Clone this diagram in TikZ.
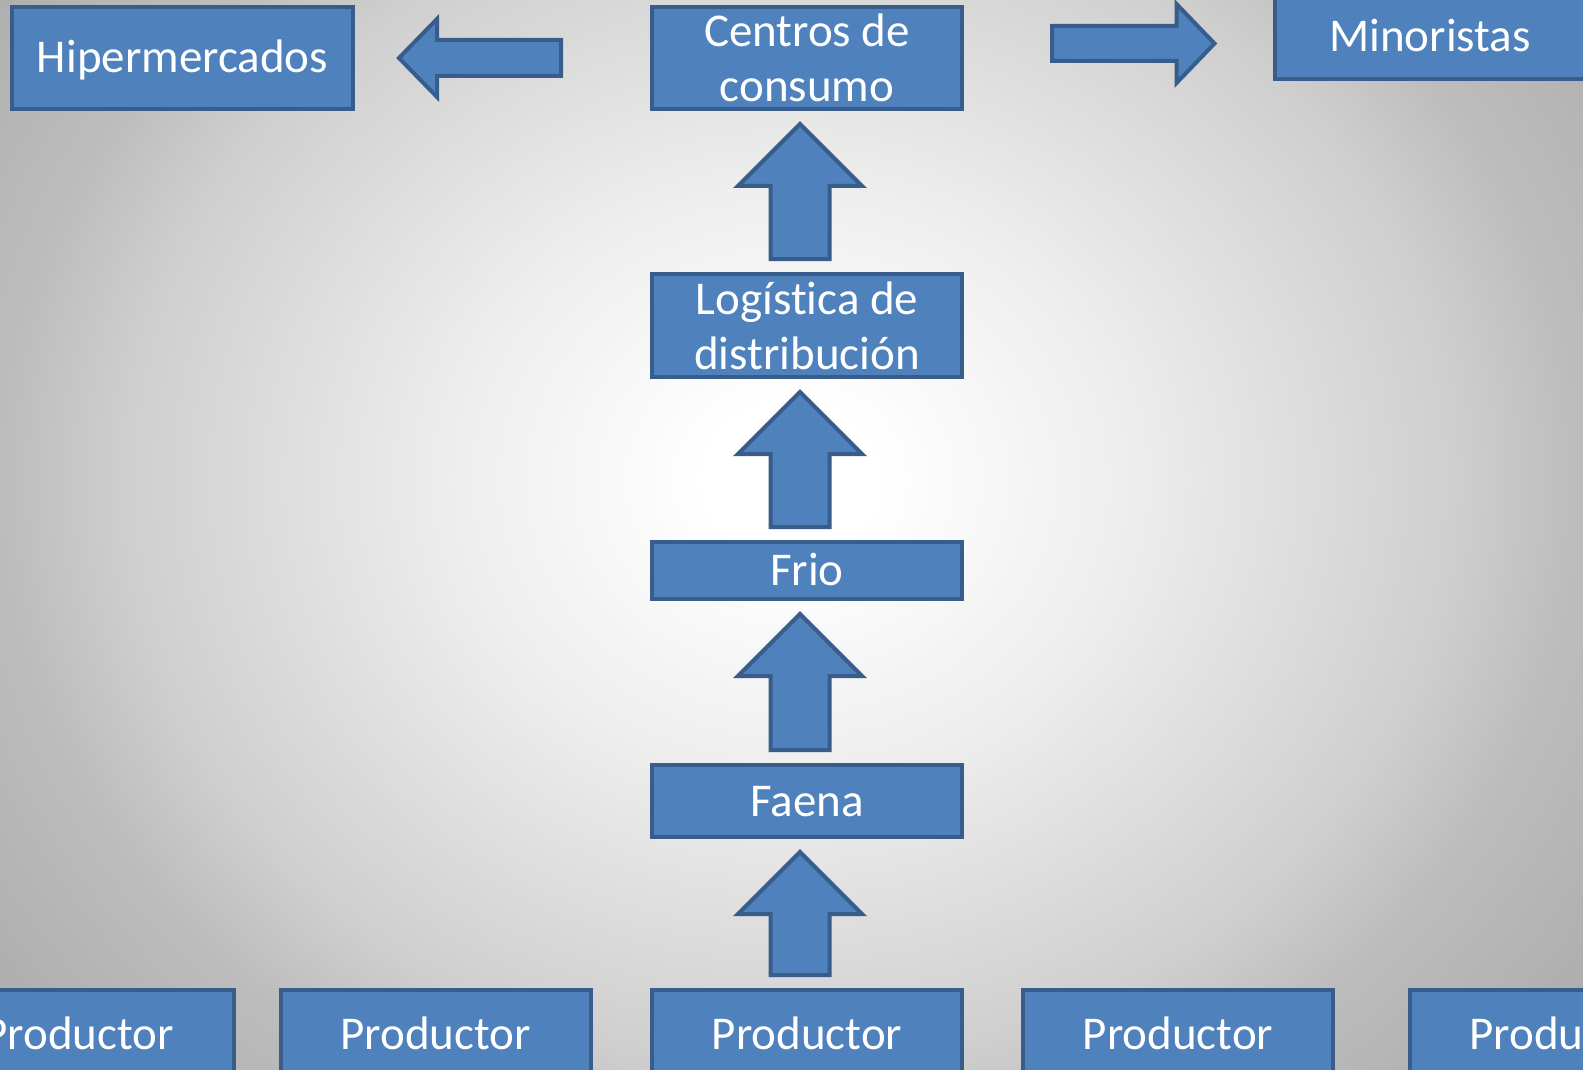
\documentclass[tikz,border=0pt]{standalone}
\usepackage{fontspec}
\setmainfont[Ligatures=NoCommon]{Carlito}
\usetikzlibrary{calc}
\definecolor{boxfill}{HTML}{4F81BD}
\definecolor{boxline}{HTML}{385D8A}
\pgfdeclareradialshading{bgshade}{\pgfpoint{0bp}{0bp}}{color(0bp)=(white); color(5bp)=(white); color(20bp)=(black!7); color(39bp)=(black!19); color(46bp)=(black!26); color(60bp)=(black!33); color(75bp)=(black!36)}
\newcommand{\blockup}[2]{%
  \draw[barrow] let \p1=(#1.north), \p2=(#2.south) in
    (770.5pt,\y1+13pt) -- (770.5pt,\y2-75pt) -- (738pt,\y2-75pt) -- (800pt,\y2-13pt)
    -- (862pt,\y2-75pt) -- (829.5pt,\y2-75pt) -- (829.5pt,\y1+13pt) -- cycle;}
\begin{document}
\begin{tikzpicture}[x=1pt,y=-1pt,
  boxbase/.style={draw=boxline, fill=boxfill, line width=4pt, inner sep=0pt,
    text=white, font=\fontsize{47}{55}\selectfont, align=center, minimum width=310pt},
  box1/.style={boxbase, text height=30pt, text depth=0pt},
  prod/.style={box1, anchor=north, minimum height=150pt, text depth=62pt},
  barrow/.style={draw=boxline, fill=boxfill, line width=4pt, line join=miter}]
\useasboundingbox (0,0) rectangle (1583,1070);
\clip (0,0) rectangle (1583,1070);
\fill[black!30] (0,0) rectangle (1583,1070);
\begin{scope}
  \pgftransformcm{17}{0}{0}{15}{\pgfpoint{790pt}{-480pt}}
  \pgflowlevelsynccm
  \pgfuseshading{bgshade}
\end{scope}

\node[box1, minimum width=341pt, minimum height=102pt] (hip) at (182.5,58) {Hipermercados};
\node[boxbase, minimum height=102pt] (cen) at (807,58) {Centros de\\consumo};
\node[box1, minimum width=311pt, minimum height=84pt] (min) at (1430,37) {Minoristas};
\node[boxbase, minimum height=103pt] (log) at (807,325.5) {Logística de\\distribución};
\node[box1, minimum height=57pt] (frio) at (807,570.5) {Frio};
\node[box1, minimum height=72pt] (faena) at (807,801) {Faena};
\node[prod] (p1) at (78.5,988) {Productor};
\node[prod] (p2) at (435.5,988) {Productor};
\node[prod] (p3) at (807,988) {Productor};
\node[prod] (p4) at (1178,988) {Productor};
\node[prod] (p5) at (1564.5,988) {Productor};

\blockup{log}{cen}
\blockup{frio}{log}
\blockup{faena}{frio}
\blockup{p3}{faena}

\draw[barrow] let \p1=(hip.east), \p2=(cen.west) in
  (\x2-89pt,-40pt) -- (\x1+82pt,-40pt) -- (\x1+82pt,-19pt) -- (\x1+44pt,-58pt)
  -- (\x1+82pt,-97pt) -- (\x1+82pt,-76pt) -- (\x2-89pt,-76pt) -- cycle;
\draw[barrow] let \p1=(cen.east), \p2=(min.west) in
  (\x1+88pt,-26pt) -- (\x2-96pt,-26pt) -- (\x2-96pt,-4pt) -- (\x2-58pt,-43.5pt)
  -- (\x2-96pt,-83pt) -- (\x2-96pt,-61pt) -- (\x1+88pt,-61pt) -- cycle;
\end{tikzpicture}
\end{document}
